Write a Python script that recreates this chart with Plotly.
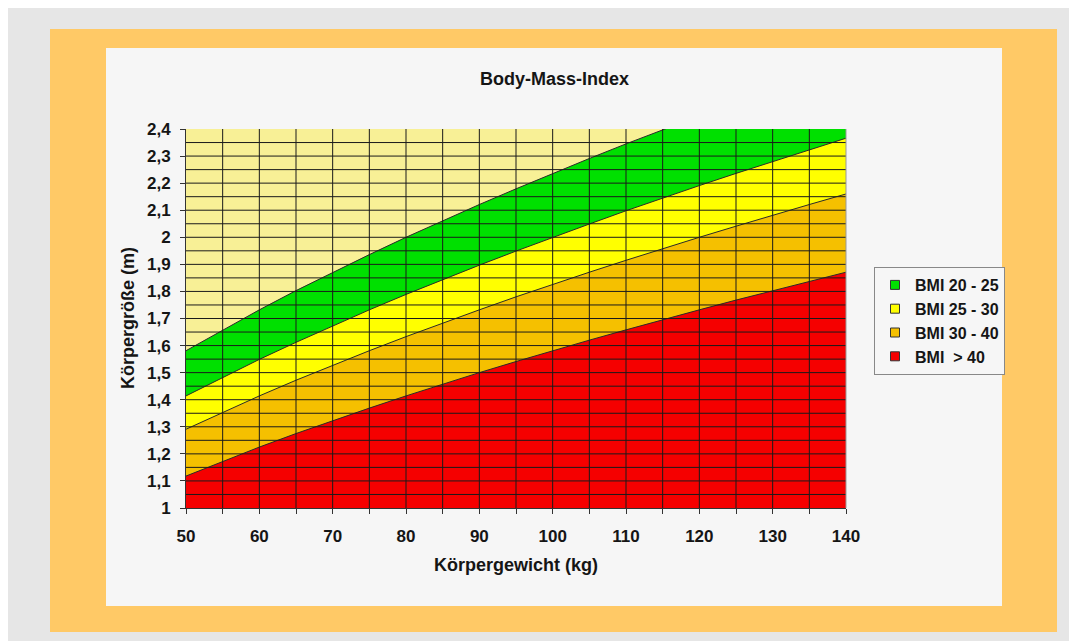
import plotly.graph_objects as go

# ---- data ----
weights = [50, 55, 60, 65, 70, 75, 80, 85, 90, 95, 100, 105, 110, 115, 120, 125, 130, 135, 140]
bmi20 = [1.581, 1.658, 1.732, 1.803, 1.871, 1.936, 2.000, 2.062, 2.121, 2.179, 2.236, 2.291,
         2.345, 2.398, 2.449, 2.500, 2.550, 2.598, 2.646]
bmi25 = [1.414, 1.483, 1.549, 1.612, 1.673, 1.732, 1.789, 1.844, 1.897, 1.949, 2.000, 2.049,
         2.098, 2.145, 2.191, 2.236, 2.280, 2.324, 2.366]
bmi30 = [1.291, 1.354, 1.414, 1.472, 1.528, 1.581, 1.633, 1.683, 1.732, 1.780, 1.826, 1.871,
         1.915, 1.958, 2.000, 2.041, 2.082, 2.121, 2.160]
bmi40 = [1.118, 1.173, 1.225, 1.275, 1.323, 1.369, 1.414, 1.458, 1.500, 1.541, 1.581, 1.620,
         1.658, 1.696, 1.732, 1.768, 1.803, 1.837, 1.871]
series_names = ["BMI 20 - 25", "BMI 25 - 30", "BMI 30 - 40", "BMI \u00a0> 40"]
series_colors = ["#00E000", "#FFFF00", "#F5C000", "#F50000"]

x_range = [50, 140]
y_range = [1.0, 2.4]
x_tickvals = [50, 60, 70, 80, 90, 100, 110, 120, 130, 140]
x_ticktext = ["50", "60", "70", "80", "90", "100", "110", "120", "130", "140"]
y_tickvals = [1.0, 1.1, 1.2, 1.3, 1.4, 1.5, 1.6, 1.7, 1.8, 1.9, 2.0, 2.1, 2.2, 2.3, 2.4]
y_ticktext = ["1", "1,1", "1,2", "1,3", "1,4", "1,5", "1,6", "1,7", "1,8", "1,9",
              "2", "2,1", "2,2", "2,3", "2,4"]
x_grid = [55, 60, 65, 70, 75, 80, 85, 90, 95, 100, 105, 110, 115, 120, 125, 130, 135]
y_grid = [1.05, 1.1, 1.15, 1.2, 1.25, 1.3, 1.35, 1.4, 1.45, 1.5, 1.55, 1.6, 1.65, 1.7, 1.75,
          1.8, 1.85, 1.9, 1.95, 2.0, 2.05, 2.1, 2.15, 2.2, 2.25, 2.3, 2.35]

FONT = "Arial, 'Liberation Sans', sans-serif"
TXT = "#151515"

# page offset (body margin) and plot area in page pixels
OFF = 8
L, R, T, B = 186, 846, 129, 508
W, H = 1077 - OFF, 641 - OFF
PW, PH = R - L, B - T


def px(x):
    return (x - L) / PW


def py(y):
    return (B - y) / PH


fig = go.Figure()

# pale background of the plot area
fig.add_trace(go.Scatter(
    x=x_range, y=[y_range[1], y_range[1]], mode="lines", fill="tozeroy",
    fillcolor="#F8F096", line=dict(width=0), showlegend=False, hoverinfo="skip"))

curves = [bmi20, bmi25, bmi30, bmi40]
for vals, name, col in zip(curves, series_names, series_colors):
    fig.add_trace(go.Scatter(
        x=weights, y=vals, mode="lines", fill="tozeroy", fillcolor=col,
        line=dict(color="#2a2a2a", width=1), showlegend=False, hoverinfo="skip"))

for name, col in zip(series_names, series_colors):
    fig.add_trace(go.Scatter(
        x=[None], y=[None], mode="markers", name=name,
        marker=dict(symbol="square", size=9, color=col, line=dict(color="#333", width=1))))

shapes = [
    dict(type="rect", xref="paper", yref="paper", layer="below",
         x0=px(50), x1=px(1057), y0=py(632), y1=py(29),
         fillcolor="#FFC966", line=dict(width=0)),
    dict(type="rect", xref="paper", yref="paper", layer="below",
         x0=px(106), x1=px(1002), y0=py(606), y1=py(48),
         fillcolor="#F6F6F6", line=dict(width=0)),
]
for g in x_grid:
    shapes.append(dict(type="line", xref="x", yref="paper", layer="above",
                       x0=g, x1=g, y0=0, y1=1, line=dict(color="#1a1a1a", width=1)))
for g in y_grid:
    shapes.append(dict(type="line", xref="paper", yref="y", layer="above",
                       x0=0, x1=1, y0=g, y1=g, line=dict(color="#1a1a1a", width=1)))
shapes.append(dict(type="line", xref="paper", yref="paper", layer="above",
                   x0=1, x1=1, y0=0, y1=1, line=dict(color="#999", width=1)))

annotations = [
    dict(text="Body-Mass-Index", xref="paper", yref="paper",
         x=px(554), y=py(79), xanchor="center", yanchor="middle", showarrow=False,
         font=dict(size=18, color=TXT, family=FONT, weight="bold")),
    dict(text="Körpergewicht (kg)", xref="paper", yref="paper",
         x=px(516), y=py(565), xanchor="center", yanchor="middle", showarrow=False,
         font=dict(size=18, color=TXT, family=FONT, weight="bold")),
    dict(text="Körpergröße (m)", xref="paper", yref="paper", textangle=-90,
         x=px(128), y=py(318), xanchor="center", yanchor="middle", showarrow=False,
         font=dict(size=18, color=TXT, family=FONT, weight="bold")),
]

fig.update_layout(
    width=W, height=H,
    margin=dict(l=L - OFF, r=W - (R - OFF), t=T - OFF, b=H - (B - OFF), pad=0),
    paper_bgcolor="#E6E6E6",
    plot_bgcolor="#F8F096",
    shapes=shapes,
    annotations=annotations,
    font=dict(family=FONT, color=TXT),
    legend=dict(x=px(874), y=py(267), xanchor="left", yanchor="top",
                bgcolor="#F6F6F6", bordercolor="#888", borderwidth=1,
                font=dict(size=16, family=FONT, color=TXT, weight="bold"),
                itemwidth=30, tracegroupgap=0),
    xaxis=dict(range=x_range, tickvals=x_tickvals, ticktext=x_ticktext,
               showgrid=False, zeroline=False, showline=True, linecolor="#333", linewidth=1,
               ticks="outside", ticklen=5, tickcolor="#333", ticklabelstandoff=8,
               minor=dict(ticks="outside", ticklen=5, dtick=5, tick0=50, tickcolor="#333"),
               tickfont=dict(size=17, family=FONT, color=TXT, weight="bold"),
               layer="above traces"),
    yaxis=dict(range=y_range, tickvals=y_tickvals, ticktext=y_ticktext,
               showgrid=False, zeroline=False, showline=True, linecolor="#333", linewidth=1,
               ticks="outside", ticklen=5, tickcolor="#333", ticklabelstandoff=6,
               tickfont=dict(size=17, family=FONT, color=TXT, weight="bold"),
               layer="above traces"),
)

fig.write_html("out.html")
